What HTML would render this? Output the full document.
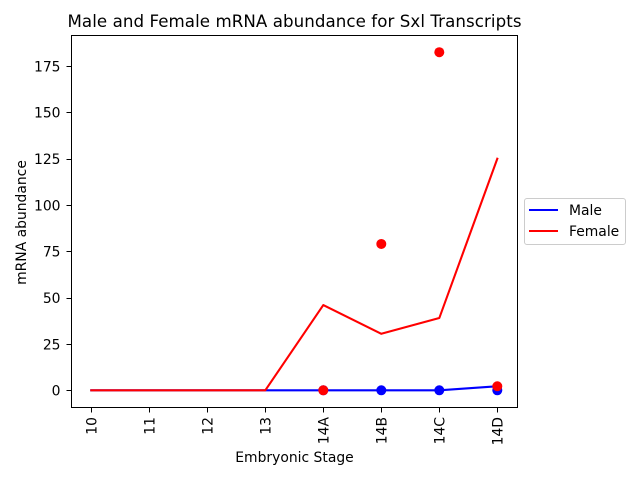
<!DOCTYPE html>
<html>
<head>
<meta charset="utf-8">
<style>
html,body{margin:0;padding:0;background:#fff;}
svg{display:block;}
text{font-family:"DejaVu Sans",sans-serif;fill:#000;}
</style>
</head>
<body>
<svg id="chart" xmlns="http://www.w3.org/2000/svg" width="640" height="480" viewBox="0 0 640 480"></svg>
<script>
const stages = ['10','11','12','13','14A','14B','14C','14D'];
const yTicks = [0,25,50,75,100,125,150,175];
const maleLine = [0,0,0,0,0,0,0,2.2];
const femaleLine = [0,0,0,0,46,30.5,39,125];
const malePointStages = ['14A','14B','14C','14D'];
const malePoints = [0,0,0,0];
const femalePointStages = ['14A','14B','14C','14D'];
const femalePoints = [0,79,182.5,2.2];

const svg = document.getElementById('chart');
const NS = 'http://www.w3.org/2000/svg';
function make(tag, attrs, text){
  const el = document.createElementNS(NS, tag);
  for (const k in attrs) el.setAttribute(k, attrs[k]);
  if (text !== undefined) el.textContent = text;
  svg.appendChild(el);
  return el;
}
function xScale(i){ return 91.3 + i * 58; }
function yScale(v){ return 390.3 - v * (324.2 / 175); }
function xOf(stage){ return xScale(stages.indexOf(stage)); }

const bg = make('rect',{x:0,y:0,width:640,height:480,fill:'#fff'});



function drawLine(values, color, name){
  const pts = values.map((v,i)=>xScale(i)+','+yScale(v)).join(' ');
  const l = make('polyline',{points:pts,fill:'none',stroke:color,'stroke-width':2.08,'stroke-linejoin':'round','stroke-linecap':'square'});
  
  
}
drawLine(maleLine,'#0000ff','male-line');
drawLine(femaleLine,'#ff0000','female-line');

malePoints.forEach((v,i)=>{
  const c = make('circle',{cx:xOf(malePointStages[i]),cy:yScale(v),r:5,fill:'#0000ff'});
  
  
});
femalePoints.forEach((v,i)=>{
  const c = make('circle',{cx:xOf(femalePointStages[i]),cy:yScale(v),r:5,fill:'#ff0000'});
  
  
});

const frame = make('rect',{x:71.5,y:35.5,width:446,height:372,fill:'none',stroke:'#000','stroke-width':1});



stages.forEach((s,i)=>{
  const x = Math.floor(xScale(i)) + 0.5;
  const t = make('line',{x1:x,x2:x,y1:407.5,y2:412.5,stroke:'#000','stroke-width':1});
  
  
  const px = xScale(i) + 5;
  const lab = make('text',{x:px,y:417,'font-size':13.9,'text-anchor':'end',transform:'rotate(-90 '+px+' 417)'},s);
  
  
});

yTicks.forEach(v=>{
  const y = Math.round(yScale(v)) + 0.5;
  const t = make('line',{x1:66.5,x2:71.5,y1:y,y2:y,stroke:'#000','stroke-width':1});
  
  
  const lab = make('text',{x:60.5,y:yScale(v)+5.3,'font-size':13.9,'text-anchor':'end'},String(v));
  
  
});

const title = make('text',{x:294.5,y:27,'font-size':16.67,'text-anchor':'middle',textLength:454,lengthAdjust:'spacing'},'Male and Female mRNA abundance for Sxl Transcripts');



const xTitle = make('text',{x:294.5,y:462,'font-size':13.9,'text-anchor':'middle'},'Embryonic Stage');



const yTitle = make('text',{x:26,y:222.5,'font-size':13.9,'text-anchor':'middle',transform:'rotate(-90 26 222.5)'},'mRNA abundance');



const legendBox = make('rect',{x:524.5,y:198.5,width:101,height:46,rx:2.5,ry:2.5,fill:'#fff',stroke:'#cccccc','stroke-width':1});



const keyMale = make('line',{x1:529,x2:558,y1:210,y2:210,stroke:'#0000ff','stroke-width':2.08});


const labelMale = make('text',{x:569,y:215,'font-size':13.9},'Male');



const keyFemale = make('line',{x1:529,x2:558,y1:231,y2:231,stroke:'#ff0000','stroke-width':2.08});


const labelFemale = make('text',{x:569,y:236,'font-size':13.9},'Female');


</script>
</body>
</html>
